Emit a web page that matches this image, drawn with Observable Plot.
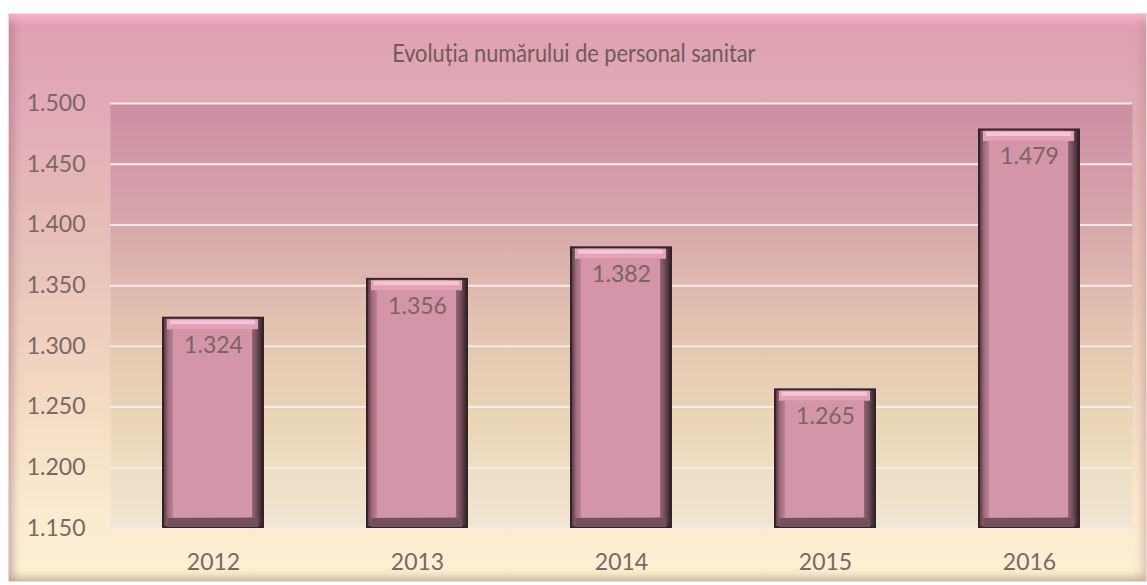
<!DOCTYPE html>
<html>
<head>
<meta charset="utf-8">
<script src="https://cdn.jsdelivr.net/npm/d3@7"></script>
<script src="https://cdn.jsdelivr.net/npm/@observablehq/plot@0.6"></script>
<style>
  html, body { margin: 0; padding: 0; background: #ffffff; width: 1147px; height: 585px; overflow: hidden; }
  #frame {
    position: absolute; left: 8px; top: 13px; width: 1139px; height: 569px;
    box-sizing: border-box;
    border: 1px solid #e2dcdc;
    background: linear-gradient(to bottom, #e09fb3 0%, #e2adb7 20%, #e9c4b9 45%, #f4dcc4 70%, #fbebd0 88%, #fdf0d4 100%);
    box-shadow:
      inset 0 10px 8px -4px rgba(250, 185, 205, 0.9),
      inset 6px 0 8px -2px rgba(130, 70, 90, 0.35),
      inset -8px 0 8px -3px rgba(170, 120, 100, 0.25),
      inset 0 -8px 8px -3px rgba(140, 120, 80, 0.3);
  }
  #title {
    position: absolute; left: 0; top: 37px; width: 1147px; text-align: center;
    font-family: Lato, "Open Sans", sans-serif; font-size: 25px; color: #6e5c57;
    line-height: 30px;
  }
  #title span { display: inline-block; transform: scaleX(0.87); transform-origin: center; }
  #chart { position: absolute; left: 0; top: 0; }
</style>
</head>
<body>
<svg width="0" height="0" style="position:absolute">
  <defs>
    <linearGradient id="plotBg" x1="0" y1="0" x2="0" y2="1">
      <stop offset="0" stop-color="#cd8ea2"/>
      <stop offset="0.25" stop-color="#d6a3ab"/>
      <stop offset="0.5" stop-color="#e2c1b0"/>
      <stop offset="0.75" stop-color="#ebd7b6"/>
      <stop offset="1" stop-color="#f0e6d4"/>
    </linearGradient>
    <linearGradient id="barSide" x1="0" y1="0" x2="1" y2="0">
      <stop offset="0" stop-color="#5e3c47"/>
      <stop offset="0.04" stop-color="#9c6a7a"/>
      <stop offset="0.11" stop-color="#c58c9e"/>
      <stop offset="0.86" stop-color="#b07a8a"/>
      <stop offset="0.95" stop-color="#6e4a56"/>
      <stop offset="1" stop-color="#3a2830"/>
    </linearGradient>
  </defs>
</svg>
<div id="frame"></div>
<div id="title"><span>Evoluția numărului de personal sanitar</span></div>
<div id="chart"></div>
<script>
const years = ["2012", "2013", "2014", "2015", "2016"];
const staff = [1324, 1356, 1382, 1265, 1479];
const yTicks = [1150, 1200, 1250, 1300, 1350, 1400, 1450, 1500];

const data = years.map((year, i) => ({year, value: staff[i]}));
const fmt = d3.formatLocale({decimal: ",", thousands: ".", grouping: [3], currency: ["", ""]}).format(",");
const yMin = 1150;

const plot = Plot.plot({
  width: 1147,
  height: 585,
  marginLeft: 110,
  marginRight: 15,
  marginTop: 103,
  marginBottom: 57,
  style: {fontFamily: "Lato, 'Open Sans', sans-serif", fontSize: "23px", color: "#7a6762", background: "transparent", overflow: "visible"},
  x: {domain: years, paddingInner: 0.5, paddingOuter: 0.25, label: null, tickSize: 0, tickPadding: 25},
  y: {domain: [1150, 1500], ticks: yTicks, tickFormat: fmt, label: null, tickSize: 0, tickPadding: 25},
  marks: [
    Plot.frame({fill: "url(#plotBg)", stroke: "none"}),
    Plot.ruleY(yTicks, {stroke: "#f4eeea", strokeWidth: 2}),
    Plot.barY(data, {x: "year", y1: yMin, y2: "value", fill: "#33242a"}),
    Plot.barY(data, {x: "year", y1: yMin, y2: "value", fill: "url(#barSide)", insetTop: 2, insetBottom: 2, insetLeft: 2, insetRight: 2}),
    Plot.tickY(data, {x: "year", y: "value", dy: 7, stroke: "#e2a2b8", strokeWidth: 10, insetLeft: 5, insetRight: 6}),
    Plot.tickY(data, {x: "year", y: "value", dy: 5, stroke: "#f6c4d6", strokeWidth: 4, insetLeft: 8, insetRight: 9}),
    Plot.tickY(data, {x: "year", y: yMin, dy: -6, stroke: "#74505c", strokeWidth: 9, insetLeft: 5, insetRight: 6}),
    Plot.barY(data, {x: "year", y1: yMin, y2: "value", fill: "#d595a9", insetTop: 12, insetBottom: 11, insetLeft: 11, insetRight: 12}),
    Plot.text(data, {x: "year", y: "value", text: d => fmt(d.value), dy: 28, fontSize: 23, fill: "#7a6560"})
  ]
});
document.getElementById("chart").appendChild(plot);
</script>
</body>
</html>
